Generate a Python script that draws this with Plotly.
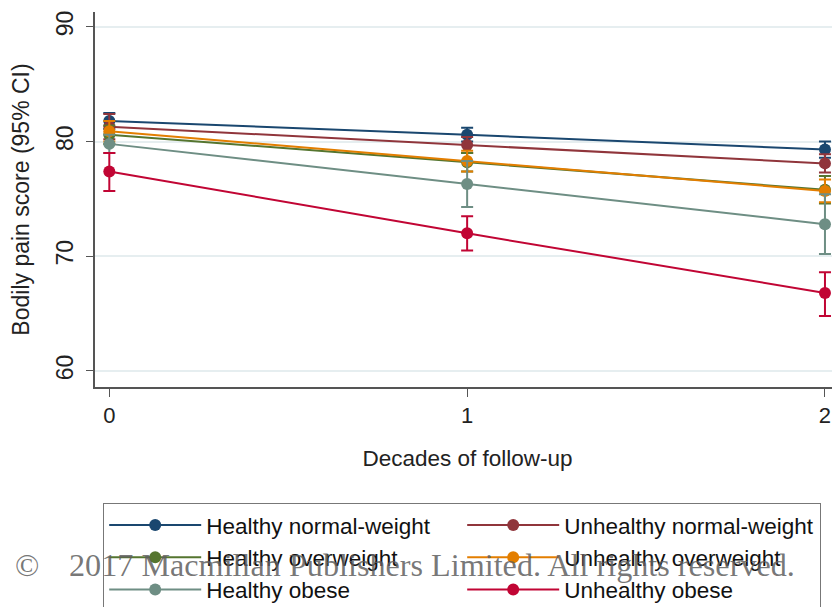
import plotly.graph_objects as go

decades = [0, 1, 2]
series_names = ["Healthy normal-weight", "Unhealthy normal-weight",
                "Healthy overweight", "Unhealthy overweight",
                "Healthy obese", "Unhealthy obese"]
series_colors = ["#1a476f", "#90353b", "#55752f", "#e37e00", "#6e8e84", "#c10534"]

hnw_mean = [81.8, 80.6, 79.3]
hnw_lo = [81.1, 80.0, 78.6]
hnw_hi = [82.5, 81.2, 80.0]

unw_mean = [81.3, 79.7, 78.1]
unw_lo = [80.2, 79.0, 77.3]
unw_hi = [82.4, 80.4, 78.9]

how_mean = [80.6, 78.2, 75.8]
how_lo = [79.8, 77.4, 74.6]
how_hi = [81.4, 79.0, 77.0]

uow_mean = [80.9, 78.3, 75.7]
uow_lo = [80.0, 77.4, 74.7]
uow_hi = [81.8, 79.2, 76.7]

hob_mean = [79.8, 76.3, 72.8]
hob_lo = [79.0, 74.3, 70.2]
hob_hi = [80.6, 78.3, 75.4]

uob_mean = [77.4, 72.0, 66.8]
uob_lo = [75.7, 70.5, 64.8]
uob_hi = [79.0, 73.5, 68.6]

y_ticks = [60, 70, 80, 90]

all_means = [hnw_mean, unw_mean, how_mean, uow_mean, hob_mean, uob_mean]
all_lo = [hnw_lo, unw_lo, how_lo, uow_lo, hob_lo, uob_lo]
all_hi = [hnw_hi, unw_hi, how_hi, uow_hi, hob_hi, uob_hi]

FONT = "Arial, Liberation Sans, sans-serif"
SERIF = "Liberation Serif, Times New Roman, serif"

fig = go.Figure()
for name, col, m, lo, hi in zip(series_names, series_colors, all_means, all_lo, all_hi):
    fig.add_trace(go.Scatter(
        x=decades, y=m, name=name, mode="lines+markers",
        line=dict(color=col, width=2),
        marker=dict(color=col, size=12, symbol="circle"),
        error_y=dict(type="data", symmetric=False,
                     array=[h - v for h, v in zip(hi, m)],
                     arrayminus=[v - l for v, l in zip(m, lo)],
                     color=col, thickness=2, width=6),
    ))

# page body adds an 8px offset; figure sized so the content fills the 840x607 window
fig.update_layout(
    width=832, height=599,
    paper_bgcolor="white", plot_bgcolor="white",
    margin=dict(l=87, r=0, t=4, b=220, autoexpand=False),
    font=dict(family=FONT, color="#222"),
    showlegend=True,
    legend=dict(
        orientation="h", x=0.011, xanchor="left", y=-0.309, yanchor="top",
        font=dict(size=22.5, family=FONT, color="#111"),
        bordercolor="#777", borderwidth=1, bgcolor="white",
        entrywidth=251, entrywidthmode="pixels", itemwidth=92,
        traceorder="normal",
    ),
    xaxis=dict(
        range=[-0.04, 2.042], tickvals=decades, ticktext=[str(d) for d in decades],
        showgrid=False, zeroline=False, showline=True, linecolor="#555", linewidth=1.5,
        ticks="outside", ticklen=8, tickcolor="#555",
        tickfont=dict(size=22, family=FONT, color="#222"),
        title=dict(text="Decades of follow-up", font=dict(size=22.5, family=FONT, color="#222"),
                   standoff=23),
    ),
    yaxis=dict(
        range=[58.6, 91.3], tickvals=y_ticks, ticktext=[str(t) for t in y_ticks],
        tickangle=-90,
        showgrid=True, gridcolor="#e6eef0", gridwidth=1.5,
        zeroline=False, showline=True, linecolor="#555", linewidth=1.5,
        ticks="outside", ticklen=7, tickcolor="#555", ticklabelstandoff=4,
        tickfont=dict(size=23, family=FONT, color="#222"),
        title=dict(text="Bodily pain score (95% CI)", font=dict(size=23, family=FONT, color="#222"),
                   standoff=26),
    ),
)

fig.add_annotation(text="©", xref="paper", yref="paper", x=-0.110, y=-0.475,
                   xanchor="left", yanchor="middle", showarrow=False,
                   font=dict(family=SERIF, size=32, color="rgba(95,95,95,0.85)"))
fig.add_annotation(text="2017 Macmillan Publishers Limited. All rights reserved.",
                   xref="paper", yref="paper", x=-0.0376, y=-0.475,
                   xanchor="left", yanchor="middle", showarrow=False,
                   font=dict(family=SERIF, size=32.2, color="rgba(95,95,95,0.85)"))

fig.write_html("out.html")
